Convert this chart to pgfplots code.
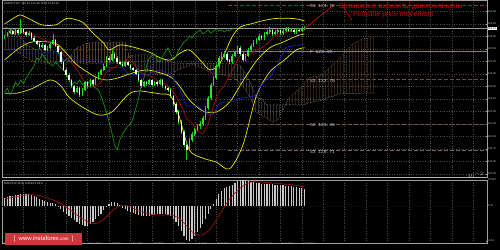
\documentclass[border=0pt]{standalone}
\usepackage{fontspec}
\setmainfont{Liberation Sans}
\newfontfamily\monofont{Liberation Mono}
\usepackage{pgfplots}
\pgfplotsset{compat=1.18}
\usepackage{pgfplotstable}
\usetikzlibrary{patterns}
\pgfdeclarepatternformonly{vdots}{\pgfpointorigin}{\pgfpoint{2.7bp}{1.3bp}}{\pgfpoint{2.7bp}{1.3bp}}{%
  \pgfpathrectangle{\pgfpointorigin}{\pgfpoint{0.65bp}{0.75bp}}\pgfusepath{fill}}
\definecolor{gridc}{HTML}{4A4A4A}
\definecolor{framec}{HTML}{A0A0A0}
\definecolor{lbl}{HTML}{C8C8C8}
\definecolor{bbc}{HTML}{E8E800}
\definecolor{tenkan}{HTML}{B01010}
\definecolor{kijun}{HTML}{2020D0}
\definecolor{chikou}{HTML}{14A014}
\definecolor{wick}{HTML}{10D010}
\definecolor{bullb}{HTML}{30E030}
\definecolor{bearb}{HTML}{F0FFE8}
\definecolor{sandy}{HTML}{C48A5A}
\definecolor{thistle}{HTML}{C4BCC4}
\definecolor{pivR}{HTML}{8B3020}
\definecolor{pivP}{HTML}{8C8C10}
\definecolor{pivS}{HTML}{6E4A3A}
\definecolor{macdbar}{HTML}{C8C8C8}
\definecolor{sigc}{HTML}{B01010}
\definecolor{logored}{HTML}{C83A3C}
\definecolor{annot}{HTML}{D00000}

\pgfplotstableread{
i o h l c
0 123.88 123.95 123.83 123.91
1 123.91 124.03 123.88 123.99
2 123.99 124.10 123.96 124.05
3 124.05 124.08 123.93 123.97
4 123.97 124.12 123.94 124.08
5 124.08 124.11 123.95 123.99
6 123.99 124.40 123.97 124.11
7 124.11 124.14 123.98 124.02
8 124.02 124.05 123.90 123.94
9 123.94 124.04 123.91 123.99
10 123.99 124.02 123.81 123.85
11 123.85 123.90 123.73 123.77
12 123.77 123.80 123.65 123.69
13 123.69 123.73 123.56 123.60
14 123.60 123.71 123.57 123.66
15 123.66 123.69 123.48 123.52
16 123.52 123.63 123.49 123.58
17 123.58 123.74 123.55 123.69
18 123.69 123.98 123.66 123.80
19 123.80 123.84 123.59 123.63
20 123.63 123.67 123.42 123.46
21 123.46 123.50 123.14 123.18
22 123.18 123.22 122.92 122.96
23 122.96 123.01 122.77 122.82
24 122.82 122.87 122.63 122.68
25 122.68 122.72 122.46 122.51
26 122.51 122.55 122.28 122.34
27 122.34 122.50 122.30 122.45
28 122.45 122.49 122.20 122.26
29 122.26 122.44 122.22 122.40
30 122.40 122.66 122.36 122.62
31 122.62 122.66 122.46 122.51
32 122.51 122.72 122.47 122.68
33 122.68 122.72 122.52 122.57
34 122.57 122.77 122.53 122.73
35 122.73 122.89 122.69 122.85
36 122.85 123.00 122.81 122.96
37 122.96 123.12 122.92 123.07
38 123.07 123.35 123.03 123.30
39 123.30 123.34 123.19 123.24
40 123.24 123.52 123.20 123.41
41 123.41 123.45 123.26 123.30
42 123.30 123.34 123.14 123.18
43 123.18 123.22 123.09 123.13
44 123.13 123.17 123.03 123.07
45 123.07 123.22 123.04 123.18
46 123.18 123.21 123.06 123.10
47 123.10 123.13 122.97 123.01
48 123.01 123.05 122.92 122.96
49 122.96 123.00 122.81 122.85
50 122.85 122.89 122.63 122.68
51 122.68 122.72 122.46 122.51
52 122.51 122.66 122.47 122.62
53 122.62 122.66 122.52 122.57
54 122.57 122.72 122.53 122.68
55 122.68 122.72 122.50 122.54
56 122.54 122.66 122.51 122.62
57 122.62 122.66 122.52 122.57
58 122.57 122.72 122.54 122.68
59 122.68 122.72 122.46 122.51
60 122.51 122.55 122.40 122.45
61 122.45 122.49 122.35 122.40
62 122.40 122.44 122.18 122.23
63 122.23 122.27 121.96 122.01
64 122.01 122.06 121.73 121.78
65 121.78 121.83 121.45 121.50
66 121.50 121.55 121.17 121.22
67 121.22 121.27 120.80 120.86
68 120.86 120.95 120.44 120.72
69 120.72 121.05 120.68 121.00
70 121.00 121.22 120.95 121.17
71 121.17 121.33 121.12 121.28
72 121.28 121.44 121.24 121.39
73 121.39 121.52 121.30 121.45
74 121.45 121.66 121.40 121.61
75 121.61 121.94 121.57 121.89
76 121.89 122.22 121.85 122.17
77 122.17 122.60 122.12 122.54
78 122.54 122.78 122.50 122.73
79 122.73 123.12 122.69 123.07
80 123.07 123.35 123.02 123.30
81 123.30 123.45 123.25 123.35
82 123.35 123.50 123.30 123.41
83 123.41 123.45 123.19 123.24
84 123.24 123.28 123.12 123.18
85 123.18 123.40 123.14 123.35
86 123.35 123.50 123.31 123.46
87 123.46 123.64 123.42 123.58
88 123.58 123.62 123.36 123.41
89 123.41 123.45 123.19 123.24
90 123.24 123.40 123.20 123.35
91 123.35 123.57 123.31 123.52
92 123.52 123.68 123.48 123.63
93 123.63 123.79 123.59 123.74
94 123.74 123.85 123.70 123.80
95 123.80 123.96 123.76 123.91
96 123.91 123.95 123.80 123.85
97 123.85 124.02 123.81 123.97
98 123.97 124.07 123.93 124.02
99 124.02 124.15 123.98 124.08
100 124.08 124.12 123.92 123.97
101 123.97 124.07 123.93 124.02
102 124.02 124.13 123.98 124.08
103 124.08 124.12 123.95 123.99
104 123.99 124.10 123.95 124.05
105 124.05 124.16 124.01 124.11
106 124.11 124.15 124.01 124.05
107 124.05 124.13 124.01 124.08
108 124.08 124.12 123.98 124.02
109 124.02 124.13 123.98 124.08
110 124.08 124.12 124.01 124.05
111 124.05 124.16 124.01 124.11
112 124.11 124.18 124.08 124.12
}\candles

\pgfplotstableread{
i p
0 124.25
4 124.44
6 124.50
10 124.36
14 124.22
19 124.22
22 124.36
24 124.41
29 124.30
33 123.99
37 123.71
39 123.52
43 123.66
48 123.60
54 123.46
58 123.30
62 123.24
65.5 123.43
69 123.52
73 123.24
76.7 122.96
80.4 123.15
84.9 123.88
88 124.16
92 124.25
96 124.33
100 124.39
104 124.41
109 124.39
112 124.33
}\bbU

\pgfplotstableread{
i p
0 123.24
5 123.55
10 123.74
17 123.74
20 123.66
24 123.35
27 123.10
34 122.76
38 122.68
42 122.73
48 122.88
53 122.96
58 122.88
62 122.76
65 122.54
69 122.12
74 121.81
79 121.78
84 122.06
89 122.65
94 123.21
99 123.58
104 123.74
109 123.91
112 123.97
}\bbM

\pgfplotstableread{
i p
0 122.31
4.6 122.31
10 122.43
17 122.68
21 122.51
24 122.20
29 121.92
35 121.70
40 121.78
46 122.26
50 122.37
58 122.29
62 122.23
65 121.70
69 120.72
74 120.49
79 120.38
84 120.19
89 120.86
94 122.23
99 122.90
104 123.21
109 123.52
112 123.58
}\bbL

\pgfplotstableread{
i p
0 123.94
4 123.99
8 124.01
12 123.90
16 123.76
20 123.63
22 123.38
24 123.24
26 123.07
28 122.86
30 122.61
32 122.47
34 122.50
36 122.61
38 122.90
40 122.99
42 123.07
44 123.18
46 123.24
48 123.18
50 122.93
52 122.85
54 122.80
56 122.73
58 122.59
60 122.57
62 122.45
64 122.23
66 121.95
68 121.59
70 121.47
72 121.25
74 121.17
76 121.45
78 121.95
80 122.34
82 122.51
84 122.79
86 123.10
88 123.38
90 123.38
92 123.41
94 123.52
96 123.58
98 123.69
100 123.85
102 123.94
104 123.97
106 124.04
108 124.04
110 124.05
112 124.06
}\tenkan

\pgfplotstableread{
i p
0 123.43
20 123.43
21 123.24
36 123.24
37 123.03
44 123.03
46 122.86
48 122.83
54 122.83
55 122.90
58 122.96
62 122.82
64 122.59
66 122.31
67 122.08
68 121.95
72 121.95
74 121.84
76 121.70
78 121.73
80 122.01
82 122.06
86 122.09
87 122.15
93 122.23
94 122.26
95 122.45
96 122.54
97 122.62
98 122.71
99 122.76
100 122.85
101 122.99
102 123.13
103 123.31
104 123.41
105 123.59
108 123.65
112 123.67
}\kijun

\pgfplotstableread{
i p
0 123.52
4 123.52
8 123.30
12 123.15
16 123.15
20 123.15
24 123.30
27 123.58
30 123.69
34 123.74
45 123.74
47 123.24
50 122.96
54 122.90
58 122.82
62 122.83
66 123.01
70 123.10
74 123.01
78 122.85
82 122.82
86 122.73
90 122.41
92 122.13
94 121.77
98 121.60
100 121.50
102 121.57
104 121.84
106 122.17
110 122.43
114 122.75
118 122.80
122 123.06
126 123.35
130 123.69
134 123.84
138 123.87
}\spanA

\pgfplotstableread{
i p
0 124.16
4 124.08
8 123.66
12 123.52
16 123.52
20 123.46
22 123.24
26 123.15
44 123.15
46 123.30
48 123.38
56 123.38
60 123.24
64 123.15
86 123.13
88 123.07
90 122.85
92 122.57
94 122.20
96 122.15
97 122.06
98 121.98
112 121.98
113 122.03
119 122.12
121 122.20
123 122.23
125 122.30
138 122.31
}\spanB

% cloud regions: span A forward, span B back
\pgfplotstableread{
i p
0 123.52
4 123.52
8 123.30
12 123.15
16 123.15
20 123.15
22.3 123.22
22 123.24
20 123.46
16 123.52
12 123.52
8 123.66
4 124.08
0 124.16
}\kumoA

\pgfplotstableread{
i p
22.3 123.22
24 123.30
27 123.58
30 123.69
34 123.74
45 123.74
46.6 123.33
46 123.30
44 123.15
26 123.15
22.3 123.22
}\kumoB

\pgfplotstableread{
i p
46.6 123.33
47 123.24
50 122.96
54 122.90
58 122.82
62 122.83
66 123.01
70 123.10
74 123.01
78 122.85
82 122.82
86 122.73
90 122.41
92 122.13
94 121.77
98 121.60
100 121.50
102 121.57
104 121.84
104.9 121.98
98 121.98
97 122.06
96 122.15
94 122.20
92 122.57
90 122.85
88 123.07
86 123.13
64 123.15
60 123.24
56 123.38
48 123.38
46.6 123.33
}\kumoC

\pgfplotstableread{
i p
104.9 121.98
106 122.17
110 122.43
114 122.75
118 122.80
122 123.06
126 123.35
130 123.69
134 123.84
138 123.87
138 122.31
125 122.30
123 122.23
121 122.20
119 122.12
113 122.03
112 121.98
104.9 121.98
}\kumoD

\pgfplotstableread{
i m
0 0.0091
1 0.0103
2 0.0114
3 0.0114
4 0.0125
5 0.0125
6 0.0137
7 0.0137
8 0.0137
9 0.0137
10 0.0125
11 0.0114
12 0.0103
13 0.0080
14 0.0068
15 0.0057
16 0.0046
17 0.0034
18 0.0034
19 0.0023
20 -0.0011
21 -0.0034
22 -0.0068
23 -0.0091
24 -0.0114
25 -0.0137
26 -0.0160
27 -0.0182
28 -0.0205
29 -0.0217
30 -0.0228
31 -0.0228
32 -0.0205
33 -0.0182
34 -0.0148
35 -0.0114
36 -0.0091
37 -0.0046
38 0.0005
39 0.0023
40 0.0046
41 0.0046
42 0.0034
43 0.0011
44 -0.0023
45 -0.0034
46 -0.0057
47 -0.0068
48 -0.0080
49 -0.0091
50 -0.0103
51 -0.0114
52 -0.0114
53 -0.0114
54 -0.0114
55 -0.0103
56 -0.0103
57 -0.0091
58 -0.0091
59 -0.0091
60 -0.0091
61 -0.0103
62 -0.0114
63 -0.0148
64 -0.0182
65 -0.0228
66 -0.0285
67 -0.0342
68 -0.0388
69 -0.0399
70 -0.0376
71 -0.0342
72 -0.0296
73 -0.0251
74 -0.0205
75 -0.0148
76 -0.0091
77 -0.0034
78 0.0023
79 0.0080
80 0.0137
81 0.0171
82 0.0205
83 0.0217
84 0.0228
85 0.0239
86 0.0262
87 0.0285
88 0.0296
89 0.0296
90 0.0285
91 0.0285
92 0.0274
93 0.0274
94 0.0262
95 0.0262
96 0.0251
97 0.0251
98 0.0251
99 0.0251
100 0.0251
101 0.0239
102 0.0239
103 0.0239
104 0.0239
105 0.0228
106 0.0228
107 0.0228
108 0.0217
109 0.0217
110 0.0205
111 0.0205
112 0.0194
}\macdh

\pgfplotstableread{
i s
0 0.0080
4 0.0103
8 0.0125
12 0.0125
16 0.0091
20 0.0046
24 -0.0034
28 -0.0125
32 -0.0194
35 -0.0194
38 -0.0125
41 -0.0034
44 0.0011
47 -0.0011
50 -0.0057
54 -0.0091
58 -0.0103
62 -0.0103
65 -0.0137
68 -0.0228
71 -0.0319
74 -0.0331
77 -0.0251
80 -0.0114
83 0.0034
86 0.0148
89 0.0228
92 0.0274
96 0.0274
100 0.0262
104 0.0251
108 0.0239
112 0.0217
}\macds

\begin{document}
\begin{tikzpicture}
\fill[black] (0,0) rectangle (500bp,250bp);
\useasboundingbox (0,0) rectangle (500bp,250bp);

\begin{axis}[
  at={(2bp,73bp)}, anchor=south west, width=485bp, height=177bp, scale only axis,
  xmin=-1, xmax=180.17, ymin=119.961, ymax=124.919,
  axis line style={framec, line width=0.5bp},
  xtick={-1,7,...,175}, xticklabels={}, xtick style={draw=none},
  ytick={120.05,120.40,120.75,121.10,121.45,121.80,122.15,122.50,122.85,123.20,123.55,123.90,124.25,124.60},
  yticklabels={120.05,120.40,120.75,121.10,121.45,121.80,122.15,122.50,122.85,123.20,123.55,123.90,124.25,124.60},
  ytick pos=right, yticklabel pos=right,
  /pgf/number format/assume math mode=true,
  yticklabel style={font=\fontsize{2.7}{3}\selectfont, text=lbl, inner sep=0.6bp},
  ytick style={framec, line width=0.4bp}, major tick length=1.5bp,
  grid=major, grid style={gridc, dotted, line width=0.45bp},
]
% Ichimoku cloud (dotted hatching)
\addplot[draw=none, pattern=vdots, pattern color=thistle] table[x=i,y=p] {\kumoA};
\addplot[draw=none, pattern=vdots, pattern color=sandy] table[x=i,y=p] {\kumoB};
\addplot[draw=none, pattern=vdots, pattern color=thistle] table[x=i,y=p] {\kumoC};
\addplot[draw=none, pattern=vdots, pattern color=sandy] table[x=i,y=p] {\kumoD};
\addplot[sandy, densely dotted, line width=0.45bp] table[x=i,y=p] {\spanA};
\addplot[thistle, densely dotted, line width=0.45bp] table[x=i,y=p] {\spanB};

% pivot levels
\addplot[pivR, dash pattern=on 4bp off 2bp, line width=0.5bp] coordinates {(83.4,124.78) (180.17,124.78)};
\addplot[pivP, line width=0.5bp] coordinates {(83.4,123.49) (180.17,123.49)};
\addplot[pivS, dash pattern=on 4bp off 2bp, line width=0.5bp] coordinates {(83.4,122.70) (180.17,122.70)};
\addplot[pivS!80!gray, dash pattern=on 4bp off 2bp, line width=0.5bp] coordinates {(83.4,121.45) (180.17,121.45)};
\addplot[pivS!60!gray, dash pattern=on 4bp off 2bp, line width=0.5bp] coordinates {(83.4,120.71) (180.17,120.71)};
% current price line
\addplot[gray!80, line width=0.4bp] coordinates {(-1,124.12) (180.17,124.12)};

% Bollinger
\addplot[bbc, line width=0.7bp, smooth] table[x=i,y=p] {\bbU};
\addplot[bbc, line width=0.7bp, smooth] table[x=i,y=p] {\bbM};
\addplot[bbc, line width=0.7bp, smooth] table[x=i,y=p] {\bbL};
% Ichimoku lines
\addplot[kijun, line width=0.6bp] table[x=i,y=p] {\kijun};
\addplot[tenkan, line width=0.6bp] table[x=i,y=p] {\tenkan};
\addplot[chikou, line width=0.6bp, restrict expr to domain={\thisrow{i}}{26:200}] table[x expr=\thisrow{i}-26, y=c] {\candles};

% candles
\addplot[wick, line width=0.5bp, -, quiver={u=0, v=\thisrow{h}-\thisrow{l}}] table[x=i, y=l] {\candles};
\addplot[bullb, line width=1.6bp, -, restrict expr to domain={\thisrow{c}-\thisrow{o}}{0:5},
  quiver={u=0, v=\thisrow{c}-\thisrow{o}}] table[x=i, y=o] {\candles};
\addplot[bearb, line width=1.6bp, -, restrict expr to domain={\thisrow{c}-\thisrow{o}}{-5:0},
  quiver={u=0, v=\thisrow{o}-\thisrow{c}}] table[x=i, y=c] {\candles};

% annotation
\draw[annot, line width=0.6bp] (axis cs:112,124.12) -- (axis cs:123,124.78);
\draw[annot, line width=0.6bp] (axis cs:126.4,124.72) -- (axis cs:129.7,124.36);
\node[annot, anchor=west, inner sep=0, font=\fontsize{7}{8}\selectfont] at (axis cs:124.9,124.72) {Возможные варианты движения цены};
\node[annot, anchor=west, inner sep=0, font=\fontsize{7.2}{8}\selectfont] at (axis cs:130.1,124.50) {Possible price movement};

\node[lbl, anchor=west, inner sep=0, font=\monofont\fontsize{4.6}{5}\selectfont] at (axis cs:114,124.74) {R1 124.78};
\node[lbl, anchor=west, inner sep=0, font=\monofont\fontsize{4.6}{5}\selectfont] at (axis cs:114,123.45) {P  123.49};
\node[lbl, anchor=west, inner sep=0, font=\monofont\fontsize{4.6}{5}\selectfont] at (axis cs:114,122.66) {S1 122.70};
\node[lbl, anchor=west, inner sep=0, font=\monofont\fontsize{4.6}{5}\selectfont] at (axis cs:114,121.41) {S2 121.45};
\node[lbl, anchor=west, inner sep=0, font=\monofont\fontsize{4.6}{5}\selectfont] at (axis cs:114,120.67) {S3 120.71};

\coordinate (cp) at (axis cs:180.17,124.12);
\node[lbl, anchor=north west, inner sep=0, font=\fontsize{2.9}{3.2}\selectfont] at (rel axis cs:0.004,0.985) {USDJPY,H4 \ 124.14 124.18 124.12 124.12};
\end{axis}
\node[fill=white, text=black, anchor=west, inner sep=0.5bp, font=\fontsize{2.7}{3}\selectfont] at ([xshift=0.3bp]cp) {124.12};

\fill[framec!80] (2bp,71.5bp) rectangle (487bp,73bp);

\begin{axis}[
  at={(2bp,7bp)}, anchor=south west, width=485bp, height=63bp, scale only axis,
  xmin=-1, xmax=180.17, ymin=-0.04229, ymax=0.02971,
  axis line style={framec, line width=0.5bp},
  xtick={-1,7,...,175},
  xticklabels={23 Jun 2015,24 Jun 20:00,26 Jun 04:00,29 Jun 12:00,30 Jun 20:00,2 Jul 04:00,3 Jul 12:00,6 Jul 20:00,8 Jul 04:00,9 Jul 12:00,10 Jul 20:00,14 Jul 04:00,15 Jul 12:00,16 Jul 20:00,20 Jul 04:00,{},{},{},{},{},{},{},{}},
  xtick pos=bottom, xtick style={draw=none},
  xticklabel style={font=\fontsize{2.3}{2.6}\selectfont, text=lbl, anchor=north west, inner sep=0.4bp, yshift=0.3bp},
  ytick={-0.04,0,0.0297}, yticklabels={-0.04,0.00,0.0297},
  ytick pos=right, yticklabel pos=right,
  /pgf/number format/assume math mode=true,
  yticklabel style={font=\fontsize{2.7}{3}\selectfont, text=lbl, inner sep=0.6bp},
  ytick style={framec, line width=0.4bp}, major tick length=1.5bp,
  xmajorgrids, grid style={gridc, dotted, line width=0.45bp},
]
\addplot[gridc!130, dotted, line width=0.45bp] coordinates {(-1,0) (180.17,0)};
\addplot[ycomb, macdbar, line width=1.2bp] table[x=i,y=m] {\macdh};
\addplot[sigc, line width=0.6bp, smooth] table[x=i,y=s] {\macds};
\node[lbl, anchor=north west, inner sep=0, font=\fontsize{2.9}{3.2}\selectfont] at (rel axis cs:0.004,0.96) {MACD(12,26,9) 0.0194 0.0217};
\end{axis}

\node[fill=logored, text=white, anchor=south west, minimum width=77bp, minimum height=12bp, inner sep=0, font=\fontsize{6}{7}\selectfont] at (5bp,5bp) {[\ \ www.instaforex{\fontsize{4.5}{5}\selectfont.com}\ \ ]};
\end{tikzpicture}
\end{document}
